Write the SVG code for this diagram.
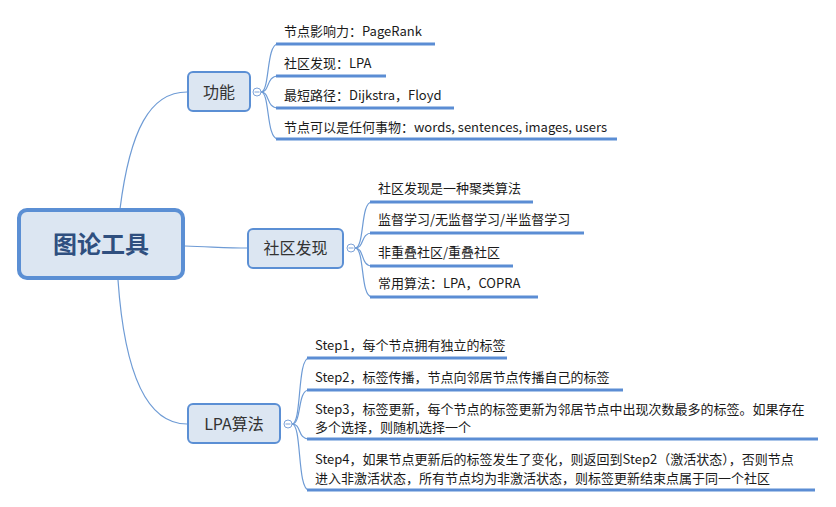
<svg xmlns="http://www.w3.org/2000/svg" width="836" height="507" viewBox="0 0 836 507">
<style>
.t{font-family:"Noto Sans CJK SC","Open Sans",sans-serif;font-size:13px;fill:#1a1a1a}
.bt{font-family:"Noto Sans CJK SC",sans-serif;font-size:16px;fill:#333;text-anchor:middle}
.box{fill:#dce6f2;stroke:#5b8fd4;stroke-width:2}
.ul{stroke:#5b8dd4;stroke-width:3;fill:none}
.c{stroke:#6e9bd5;stroke-width:1.2;fill:none}
.tg{fill:#fff;stroke:#7ea3d8;stroke-width:1}
</style>
<rect width="836" height="507" fill="#fff"/>
<g id="connectors">
<path class="c" d="M120,209 C130,130 150,92 187,92"/>
<path class="c" d="M185,246 C215,247 230,248 247,248"/>
<path class="c" d="M118,280 C125,380 150,424 187,424"/>
<path class="c" d="M261,92 C270,92 266,44 278,44"/>
<path class="c" d="M261,92 C270,92 266,76 278,76"/>
<path class="c" d="M261,92 C270,92 266,108 278,108"/>
<path class="c" d="M261,92 C270,92 266,139 278,139"/>
<path class="c" d="M355,248 C365,248 360,202 372,202"/>
<path class="c" d="M355,248 C365,248 360,233 372,233"/>
<path class="c" d="M355,248 C365,248 360,266 372,266"/>
<path class="c" d="M355,248 C365,248 360,297 372,297"/>
<path class="c" d="M292,424 C302,424 297,358 309,358"/>
<path class="c" d="M292,424 C302,424 297,390 309,390"/>
<path class="c" d="M292,424 C302,424 297,439 309,439"/>
<path class="c" d="M292,424 C302,424 297,490 309,490"/>
</g>
<g id="root">
<rect x="19" y="210" width="164" height="68" rx="8" fill="#dce6f2" stroke="#5b8fd4" stroke-width="4"/>
<text x="101" y="253" font-family="'Noto Sans CJK SC',sans-serif" font-size="24" font-weight="bold" fill="#2f4f7f" text-anchor="middle">图论工具</text>
</g>
<g id="gongneng">
<rect class="box" x="188" y="72" width="62" height="39" rx="5"/>
<text class="bt" x="219" y="98">功能</text>
<circle class="tg" cx="257" cy="92" r="4"/>
<line x1="254.5" y1="92" x2="259.5" y2="92" stroke="#7ea3d8"/>
</g>
<g id="shequ">
<rect class="box" x="248" y="229" width="95" height="39" rx="5"/>
<text class="bt" x="295.5" y="254">社区发现</text>
<circle class="tg" cx="351" cy="248" r="4"/>
<line x1="348.5" y1="248" x2="353.5" y2="248" stroke="#7ea3d8"/>
</g>
<g id="lpa">
<rect class="box" x="188" y="404" width="92" height="39" rx="5"/>
<text class="bt" x="234" y="430">LPA算法</text>
<circle class="tg" cx="288" cy="424" r="4"/>
<line x1="285.5" y1="424" x2="290.5" y2="424" stroke="#7ea3d8"/>
</g>
<g id="leaf-g1"><text class="t" x="284" y="36">节点影响力：PageRank</text><line class="ul" x1="276" y1="44" x2="435" y2="44"/></g>
<g id="leaf-g2"><text class="t" x="284" y="68">社区发现：LPA</text><line class="ul" x1="276" y1="76" x2="386" y2="76"/></g>
<g id="leaf-g3"><text class="t" x="284" y="100">最短路径：Dijkstra，Floyd</text><line class="ul" x1="276" y1="108" x2="454" y2="108"/></g>
<g id="leaf-g4"><text class="t" x="284" y="132">节点可以是任何事物：words, sentences, images, users</text><line class="ul" x1="276" y1="139" x2="617" y2="139"/></g>
<g id="leaf-s1"><text class="t" x="378" y="193">社区发现是一种聚类算法</text><line class="ul" x1="370" y1="202" x2="533" y2="202"/></g>
<g id="leaf-s2"><text class="t" x="378" y="224">监督学习/无监督学习/半监督学习</text><line class="ul" x1="370" y1="233" x2="584" y2="233"/></g>
<g id="leaf-s3"><text class="t" x="378" y="257">非重叠社区/重叠社区</text><line class="ul" x1="370" y1="266" x2="513" y2="266"/></g>
<g id="leaf-s4"><text class="t" x="378" y="288">常用算法：LPA，COPRA</text><line class="ul" x1="370" y1="297" x2="538" y2="297"/></g>
<g id="leaf-l1"><text class="t" x="315" y="350">Step1，每个节点拥有独立的标签</text><line class="ul" x1="307" y1="358" x2="507" y2="358"/></g>
<g id="leaf-l2"><text class="t" x="315" y="382">Step2，标签传播，节点向邻居节点传播自己的标签</text><line class="ul" x1="307" y1="390" x2="623" y2="390"/></g>
<g id="leaf-l3"><text class="t" x="315" y="414">Step3，标签更新，每个节点的标签更新为邻居节点中出现次数最多的标签。如果存在</text><text class="t" x="315" y="432">多个选择，则随机选择一个</text><line class="ul" x1="307" y1="439" x2="818" y2="439"/></g>
<g id="leaf-l4"><text class="t" x="315" y="464">Step4，如果节点更新后的标签发生了变化，则返回到Step2（激活状态），否则节点</text><text class="t" x="315" y="483">进入非激活状态，所有节点均为非激活状态，则标签更新结束点属于同一个社区</text><line class="ul" x1="307" y1="490" x2="815" y2="490"/></g>
</svg>
